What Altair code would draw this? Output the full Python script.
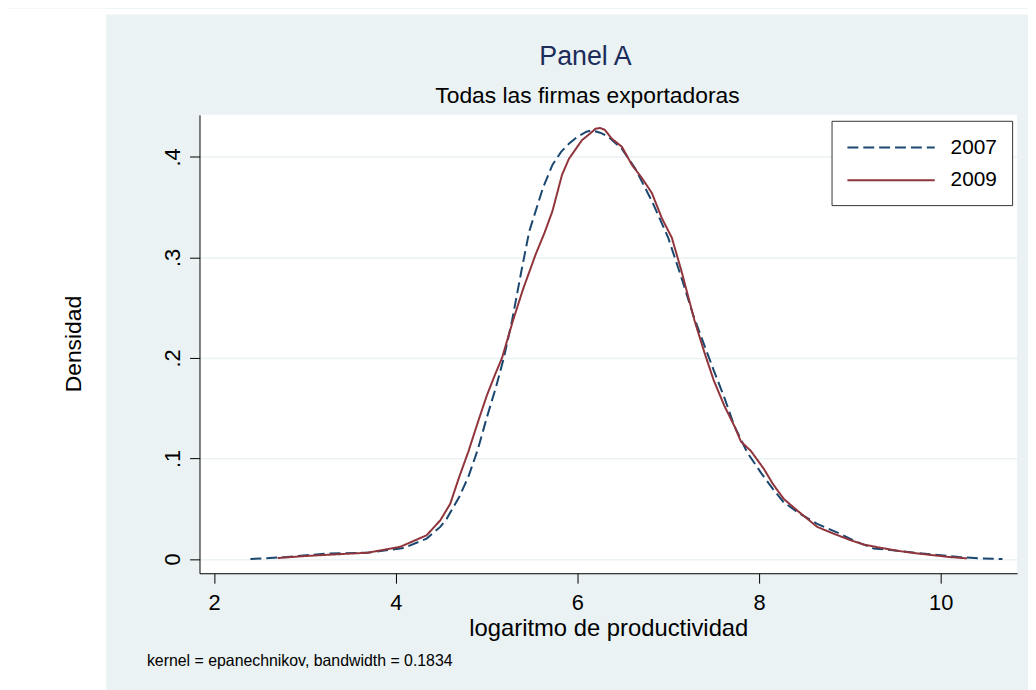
import altair as alt
import pandas as pd

years = ["2007", "2009"]

x_2007 = [2.40, 2.80, 3.25, 3.69, 4.09, 4.34, 4.49, 4.56, 4.70, 4.80, 4.90, 5.00, 5.10, 5.19, 5.28,
          5.38, 5.47, 5.62, 5.725, 5.82, 5.906, 6.00, 6.10, 6.16, 6.25, 6.34, 6.49, 6.635, 6.82,
          7.00, 7.145, 7.27, 7.40, 7.50, 7.62, 7.73, 7.87, 8.02, 8.15, 8.27, 8.45, 8.64, 8.89,
          9.05, 9.26, 9.45, 9.62, 9.91, 10.20, 10.45, 10.68]
y_2007 = [0.000, 0.002, 0.0056, 0.0063, 0.011, 0.0204, 0.032, 0.040, 0.062, 0.082, 0.108, 0.140,
          0.170, 0.200, 0.237, 0.285, 0.326, 0.369, 0.392, 0.405, 0.413, 0.420, 0.425, 0.4264,
          0.424, 0.420, 0.408, 0.3886, 0.356, 0.3195, 0.280, 0.244, 0.212, 0.188, 0.160, 0.132,
          0.106, 0.086, 0.070, 0.0566, 0.045, 0.035, 0.0253, 0.018, 0.0106, 0.009, 0.0073,
          0.0045, 0.002, 0.0005, 0.000]

x_2009 = [2.70, 3.00, 3.30, 3.69, 4.05, 4.34, 4.49, 4.60, 4.70, 4.80, 4.90, 5.00, 5.10, 5.17,
          5.29, 5.40, 5.54, 5.64, 5.725, 5.83, 5.906, 6.05, 6.15, 6.20, 6.25, 6.30, 6.38, 6.49,
          6.60, 6.71, 6.82, 6.93, 7.04, 7.145, 7.29, 7.40, 7.50, 7.62, 7.73, 7.80, 7.91, 8.055,
          8.15, 8.27, 8.42, 8.64, 8.82, 9.00, 9.15, 9.35, 9.55, 9.75, 9.91, 10.10, 10.29]
y_2009 = [0.001, 0.003, 0.0045, 0.0063, 0.0122, 0.0237, 0.0385, 0.055, 0.082, 0.107, 0.135,
          0.162, 0.185, 0.200, 0.237, 0.268, 0.303, 0.325, 0.346, 0.382, 0.398, 0.4166, 0.424,
          0.428, 0.4287, 0.427, 0.418, 0.410, 0.392, 0.379, 0.364, 0.339, 0.3195, 0.2867, 0.237,
          0.205, 0.178, 0.152, 0.132, 0.117, 0.1075, 0.0894, 0.075, 0.060, 0.0483, 0.032,
          0.0253, 0.019, 0.0145, 0.011, 0.0079, 0.0055, 0.0039, 0.002, 0.0007]

x_ticks = [2, 4, 6, 8, 10]
y_ticks = [0, 0.1, 0.2, 0.3, 0.4]

rows = []
for i, (a, b) in enumerate(zip(x_2007, y_2007)):
    rows.append({"year": "2007", "x": a, "y": b, "order": i})
for i, (a, b) in enumerate(zip(x_2009, y_2009)):
    rows.append({"year": "2009", "x": a, "y": b, "order": i})
df = pd.DataFrame(rows)

FONT = "Liberation Sans"
BG = "#EAF2F3"
NAVY = "#1a476f"
MAROON = "#90353b"

W, H = 824, 462
OX, OY = 193, 105          # plot origin inside the canvas
PX, PY = OX + 8, OY + 8    # plot origin on the page

xscale = alt.Scale(domain=[1.839, 10.841], nice=False, zero=False)
yscale = alt.Scale(domain=[-0.0141, 0.4418], nice=False, zero=False)

one = pd.DataFrame({"a": [0]})

strip_left = alt.Chart(one).mark_rect(color="white").encode(
    x=alt.value(-OX - 2), x2=alt.value(107 - PX), y=alt.value(-OY - 2), y2=alt.value(H + 220)
)
strip_top = alt.Chart(one).mark_rect(color="white").encode(
    x=alt.value(-OX - 2), x2=alt.value(W + 40), y=alt.value(-OY - 2), y2=alt.value(12 - PY)
)

title = alt.Chart(one).mark_text(
    fontSize=27, font=FONT, color="#1c2c5b", align="center", baseline="middle"
).encode(x=alt.value(590 - PX), y=alt.value(55 - PY), text=alt.value("Panel A"))

subtitle = alt.Chart(one).mark_text(
    fontSize=23, font=FONT, color="black", align="center", baseline="middle"
).encode(x=alt.value(592 - PX), y=alt.value(94 - PY),
         text=alt.value("Todas las firmas exportadoras"))

ylabel = alt.Chart(one).mark_text(
    angle=270, fontSize=23, font=FONT, color="black", align="center", baseline="middle"
).encode(x=alt.value(75 - PX), y=alt.value(H / 2), text=alt.value("Densidad"))

note = alt.Chart(one).mark_text(
    fontSize=16, font=FONT, color="black", align="left", baseline="middle"
).encode(x=alt.value(148 - PX), y=alt.value(663 - PY),
         text=alt.value("kernel = epanechnikov, bandwidth = 0.1834"))

legend = alt.Legend(
    title=None, orient="none", legendX=838 - PX, legendY=119 - PY, fillColor="white",
    strokeColor="#333333", padding=15, symbolType="M-4,0H4", symbolSize=484,
    symbolStrokeWidth=2, symbolOffset=33, labelFontSize=21, labelFont=FONT,
    labelColor="black", rowPadding=11, labelOffset=48, cornerRadius=0,
)

lines = alt.Chart(df).mark_line(strokeWidth=2).encode(
    x=alt.X("x:Q", scale=xscale, axis=alt.Axis(
        values=x_ticks, grid=False, title="logaritmo de productividad", titleFontSize=24,
        titleFont=FONT, titleFontWeight="normal", titleColor="black", titlePadding=3,
        labelFontSize=22, labelFont=FONT, labelColor="black", labelPadding=10, tickSize=10,
        tickColor="black", domainColor="black", labelFlush=False, labelOverlap=False)),
    y=alt.Y("y:Q", scale=yscale, axis=alt.Axis(
        values=y_ticks, grid=True, gridColor=BG, gridWidth=1.5, title=None,
        labelExpr="datum.value == 0 ? '0' : '.' + round(datum.value * 10)",
        labelAngle=270, labelAlign="center", labelBaseline="bottom", labelFontSize=22,
        labelFont=FONT, labelColor="black", labelPadding=5, tickSize=10, tickColor="black",
        domainColor="black", labelFlush=False, labelOverlap=False)),
    color=alt.Color("year:N", scale=alt.Scale(domain=years, range=[NAVY, MAROON]), legend=legend),
    strokeDash=alt.StrokeDash("year:N", scale=alt.Scale(domain=years, range=[[11, 5], [1, 0]]),
                              legend=legend),
    order="order:Q",
)

chart = alt.layer(strip_left, strip_top, title, subtitle, ylabel, note, lines).properties(
    width=W, height=H,
    autosize=alt.AutoSizeParams(type="none"),
    padding={"left": OX, "top": OY, "right": 1036 - PX - W, "bottom": 690 - PY - H},
).configure(background=BG).configure_view(fill="white", strokeWidth=0)

chart.save("out.html", embed_options={"renderer": "svg", "actions": False})
